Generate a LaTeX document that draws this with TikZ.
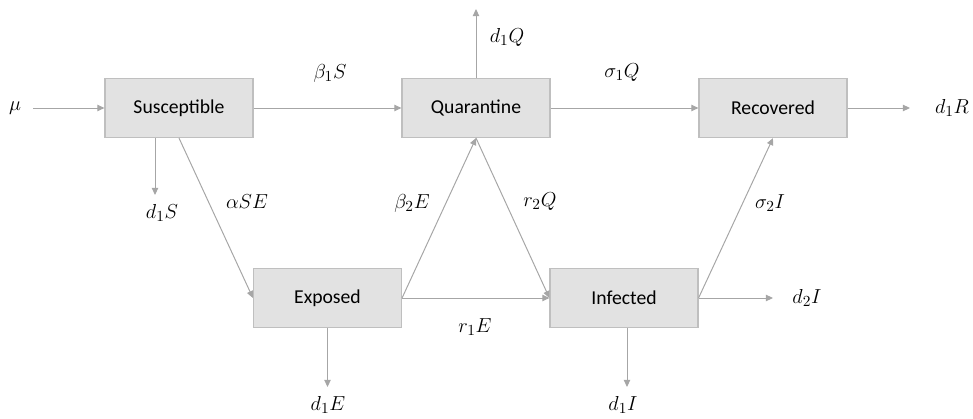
\documentclass[tikz,border=0pt]{standalone}
\usepackage{fontspec}
\setmainfont{Carlito}
\usetikzlibrary{arrows.meta}

\definecolor{boxfill}{RGB}{226,226,226}
\definecolor{boxline}{RGB}{191,191,191}
\definecolor{flowgray}{RGB}{166,166,166}

\tikzset{%
  compartment/.style={
    rectangle,
    draw=boxline,
    fill=boxfill,
    line width=0.8pt,
    minimum width=3.7cm,
    minimum height=1.475cm,
    font=\fontsize{14}{16}\selectfont,
    align=center
  },
  rate/.style={
    inner sep=1pt,
    font=\fontsize{15}{17}\selectfont
  },
  flow/.style={
    draw=flowgray,
    line width=0.7pt,
    -{Triangle[length=5pt,width=4.5pt]}
  },
}

\begin{document}
\begin{tikzpicture}
\useasboundingbox (0,0) rectangle (24.325,10.475);
% compartments
\node[compartment] (sus) at (4.475,7.775) {Susceptible};
\node[compartment] (qua) at (11.9,7.775) {Quarantine};
\node[compartment] (rec) at (19.325,7.775) {Recovered};
\node[compartment] (exp) at (8.1875,3.025) {Exposed};
\node[compartment] (inf) at (15.6,3.025) {Infected};
% rates
\node[rate] (mu) at (0.375,7.775) {$\mu$};
\node[rate] (b1S) at (8.25,8.65) {$\beta_1S$};
\node[rate] (s1Q) at (15.55,8.65) {$\sigma_1Q$};
\node[rate] (d1Q) at (12.675,9.55) {$d_1Q$};
\node[rate] (d1R) at (23.8,7.775) {$d_1R$};
\node[rate] (d1S) at (4.05,5.15) {$d_1S$};
\node[rate] (aSE) at (6.175,5.425) {$\alpha SE$};
\node[rate] (b2E) at (10.3,5.4) {$\beta_2E$};
\node[rate] (r2Q) at (13.5,5.425) {$r_2Q$};
\node[rate] (s2I) at (19.25,5.4) {$\sigma_2I$};
\node[rate] (d2I) at (20.175,3.025) {$d_2I$};
\node[rate] (r1E) at (11.875,2.3) {$r_1E$};
\node[rate] (d1E) at (8.2,0.35) {$d_1E$};
\node[rate] (d1I) at (15.575,0.35) {$d_1I$};
% loose ends
\coordinate (muout) at (0.825,7.775);
\coordinate (qout) at (11.9,10.25);
\coordinate (rout) at (22.75,7.775);
\coordinate (sout) at (3.875,5.6);
\coordinate (iout) at (19.325,3.025);
\coordinate (eout) at (8.1875,0.8);
\coordinate (ibot) at (15.675,0.8);
% flows
\draw[flow] (muout) -- (sus);
\draw[flow] (sus) -- (qua);
\draw[flow] (qua) -- (rec);
\draw[flow] (rec) -- (rout);
\draw[flow] (qua.north) -- (qout);
\draw[flow] (sus.south -| sout) -- (sout);
\draw[flow] (sus.south) -- (exp.west);
\draw[flow] (exp.east) -- (qua.south);
\draw[flow] (qua.south) -- (inf.west);
\draw[flow] (exp.east) -- (inf.west);
\draw[flow] (inf.east) -- (rec.south);
\draw[flow] (inf.east) -- (iout);
\draw[flow] (exp.south) -- (eout);
\draw[flow] (inf.south -| ibot) -- (ibot);
\end{tikzpicture}
\end{document}
